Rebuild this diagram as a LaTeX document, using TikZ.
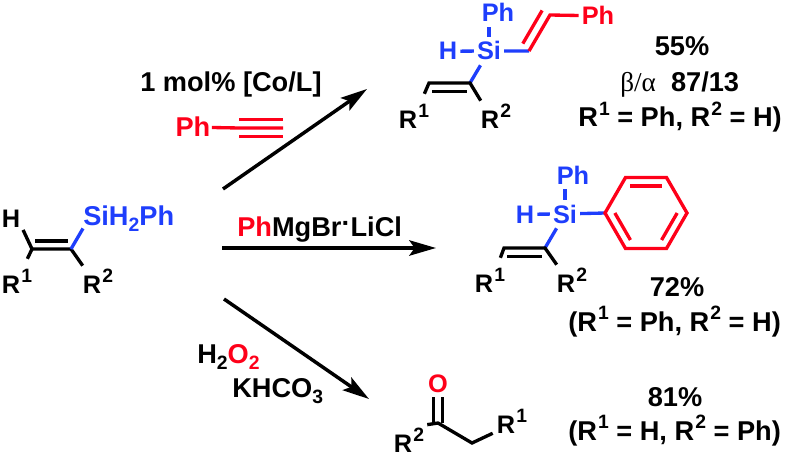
\documentclass[tikz,border=0pt]{standalone}
\usepackage{fontspec}
\setmainfont{Liberation Sans}
\newfontfamily\greekfont{Liberation Serif}
\usetikzlibrary{arrows.meta,calc}
\definecolor{siblue}{RGB}{30,62,252}
\definecolor{addred}{RGB}{254,0,25}
\newcommand{\upnum}[1]{\raisebox{.42em}{\kern.04em\fontsize{14.5}{14}\selectfont #1}}
\newcommand{\dnnum}[1]{\smash{\raisebox{-.24em}{\fontsize{14.5}{14}\selectfont #1}}}
\tikzset{
  atom/.style={font=\bfseries\fontsize{19}{22}\selectfont,inner xsep=0pt,inner ysep=0pt,anchor=base},
  lab/.style={font=\bfseries\fontsize{20.4}{24}\selectfont,inner sep=0pt,anchor=base west},
  yield/.style={lab,anchor=base},
  hetero/.style={atom,inner xsep=2.2pt,inner ysep=3.6pt},
  rone/.style={atom,inner ysep=7.5pt},
  rtwo/.style={atom,inner ysep=2.2pt},
  bond/.style={line width=2.5pt},
  sibond/.style={bond,siblue},
  redbond/.style={bond,addred},
  dbl/.style={bond,shorten <=2.5pt,shorten >=2.5pt},
  rxn/.style={line width=2.6pt,-{Stealth[length=20pt,width=11.5pt,inset=4pt]}}
}
\begin{document}
\begin{tikzpicture}[x=0.75pt,y=-0.75pt]
\useasboundingbox (0,0) rectangle (787,456);

% Starting vinylsilane
\node[lab,inner ysep=2.2pt,siblue] (sih) at (83,225) {SiH\dnnum{2}Ph};
\node[atom,inner sep=2pt] (hs) at (11,227) {H};
\node[rone] (rs1) at (17,293) {R\upnum{1}};
\node[rtwo] (rs2) at (98,293) {R\upnum{2}};
\coordinate (csl) at (32,249);
\coordinate (csr) at (71,249);
\draw[bond] (hs.south east) -- (csl) -- (csr) -- (rs2.north west);
\draw[bond] (csl) -- (rs1.65);
\draw[dbl] ([yshift=6pt]csl) -- ([yshift=6pt]csr);
\draw[sibond] (csr) -- (sih.south west);

% Top product
\node[hetero,siblue] (sia) at (489,60) {Si};
\node[hetero,siblue] (pha) at (498,22) {Ph};
\node[hetero,siblue] (ha) at (448,60) {H};
\node[hetero,addred] (phv) at (598,25) {Ph};
\node[rone] (ra1) at (414,128) {R\upnum{1}};
\node[rtwo] (ra2) at (496,128) {R\upnum{2}};
\coordinate (cal) at (429,83);
\coordinate (car) at (470,83);
\coordinate (cv1) at (529,51);
\coordinate (cv2) at (550,15);
\draw[sibond] (sia.north) -- (sia.north |- pha.south);
\draw[sibond] (ha) -- (sia);
\draw[sibond] (sia) -- (cv1);
\draw[sibond] (sia) -- (car);
\draw[redbond] (cv1) -- (cv2) -- (phv);
\draw[redbond,shorten <=2.5pt] ([shift={(-5.9pt,3.4pt)}]cv1) -- ([shift={(-5.9pt,3.4pt)}]cv2);
\draw[bond] (ra1.65) -- (cal) -- (car) -- (ra2.north west);
\draw[dbl] ([yshift=-6.5pt]cal) -- ([yshift=-6.5pt]car);

% Middle product
\node[hetero,siblue] (sib) at (565,223) {Si};
\node[hetero,siblue] (phb) at (573,184) {Ph};
\node[hetero,siblue] (hb) at (525,223) {H};
\node[rone] (rb1) at (490,292) {R\upnum{1}};
\node[rtwo] (rb2) at (572,292) {R\upnum{2}};
\coordinate (cbl) at (504,248);
\coordinate (cbr) at (545,248);
\coordinate (ring) at (646,213);
\foreach \a in {0,60,...,300} \coordinate (ph\a) at ({646+41*cos(\a)},{213+41*sin(\a)});
\draw[sibond] (sib.north) -- (sib.north |- phb.south);
\draw[sibond] (hb) -- (sib);
\draw[sibond] (sib) -- (ph180);
\draw[sibond] (sib) -- (cbr);
\draw[redbond] (ph0) -- (ph60) -- (ph120) -- (ph180) -- (ph240) -- (ph300) -- cycle;
\foreach \a/\b in {240/300,0/60,120/180} \draw[redbond] ($(ring)!.76!(ph\a)$) -- ($(ring)!.76!(ph\b)$);
\draw[bond] (rb1.65) -- (cbl) -- (cbr) -- (rb2.north west);
\draw[dbl] ([yshift=-6.5pt]cbl) -- ([yshift=-6.5pt]cbr);

% Ketone
\node[hetero,addred] (ok) at (438,392) {O};
\node[atom,inner sep=2.2pt] (rk2) at (409,452) {R\upnum{2}};
\node[atom,inner xsep=3pt,inner ysep=0pt] (rk1) at (512,433) {R\upnum{1}};
\coordinate (ck) at (438,423);
\coordinate (cm) at (472,443);
\draw[bond] (rk2.north east) -- (ck) -- (cm) -- (rk1.south west);
\draw[bond] ([xshift=-3.4pt]ck) -- ([xshift=-3.4pt]ok.south);
\draw[bond] ([xshift=3.4pt]ck) -- ([xshift=3.4pt]ok.south);

% Reaction arrows
\coordinate (arstart1) at (223,189);
\coordinate (arend1) at (367,89);
\coordinate (arstart2) at (222,248);
\coordinate (arend2) at (436,248);
\coordinate (arstart3) at (224,299);
\coordinate (arend3) at (369,399);
\draw[rxn] (arstart1) -- (arend1);
\draw[rxn] (arstart2) -- (arend2);
\draw[rxn] (arstart3) -- (arend3);

% Reagents
\node[lab] (cat) at (140,92) {1 mol\% [Co/L]};
\node[lab,addred,inner xsep=1pt] (pht) at (174,137) {Ph};
\coordinate (tb) at (239,128);
\coordinate (te) at (283,128);
\draw[redbond] (pht) -- (tb) -- (te);
\draw[redbond] ([yshift=6.3pt]tb) -- ([yshift=6.3pt]te);
\draw[redbond] ([yshift=-6.3pt]tb) -- ([yshift=-6.3pt]te);
\node[lab] (grig) at (237,236) {\textcolor{addred}{Ph}MgBr\raisebox{.12em}{·}LiCl};
\node[lab] (perox) at (197,363) {H\dnnum{2}\textcolor{addred}{O\dnnum{2}}};
\node[lab] (base) at (232,397) {KHCO\dnnum{3}};

% Yields
\node[yield] (ya) at (682,56) {55\%};
\node[lab] (ratio) at (620,92) {{\greekfont\mdseries β/α}\ \ 87/13};
\node[lab] (ra) at (578,127) {R\upnum{1} = Ph, R\upnum{2} = H)};
\node[yield] (yb) at (677,296) {72\%};
\node[lab] (rb) at (568,331) {(R\upnum{1} = Ph, R\upnum{2} = H)};
\node[yield] (yc) at (675,406) {81\%};
\node[lab] (rc) at (568,440) {(R\upnum{1} = H, R\upnum{2} = Ph)};
\end{tikzpicture}
\end{document}
